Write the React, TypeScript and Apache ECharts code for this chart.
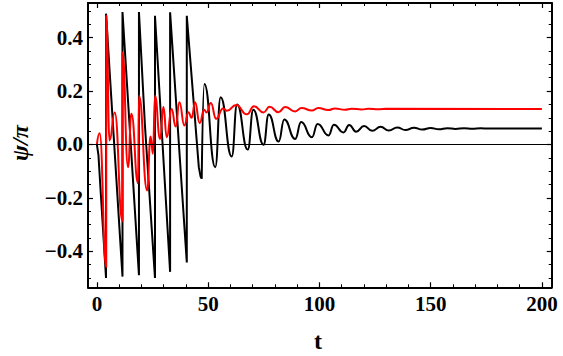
import React, { useEffect, useRef } from "react";
import * as echarts from "echarts";

// ---- axis ranges & ticks ----
const X_MIN = -4;
const X_MAX = 204.4;
const Y_MIN = -0.535;
const Y_MAX = 0.53;
const xMajorTicks = [0, 50, 100, 150, 200];
const xMinorTicks = [10, 20, 30, 40, 60, 70, 80, 90, 110, 120, 130, 140, 160, 170, 180, 190];
const yMajorTicks = [-0.4, -0.2, 0, 0.2, 0.4];
const yMinorTicks = [-0.5, -0.45, -0.35, -0.3, -0.25, -0.15, -0.1, -0.05, 0.05, 0.1, 0.15, 0.25, 0.3, 0.35, 0.45, 0.5];

// ---- black curve: sawtooth phase slips (straight parts, incl. vertical jumps) ----
const blackRamp: [number, number][] = [
  [0, 0], [0.7, -0.04], [1.5, -0.15], [4.1, -0.5],
  [4.1, 0.49], [11.5, -0.495],
  [11.5, 0.496], [18.9, -0.49],
  [18.9, 0.496], [21.6, 0.07], [26.1, -0.5],
  [26.1, 0.482], [32.9, -0.477],
  [32.9, 0.495], [40.4, -0.442],
  [40.4, 0.482], [45.8, -0.085], [46.6, -0.12], [47.1, -0.128],
];

// ---- black curve: damped oscillation (extrema) ----
const blackWave: [number, number][] = [
  [47.1, -0.128], [48.3, 0.227], [53.2, -0.085], [55.6, 0.177], [60.6, -0.045],
  [63.0, 0.15], [67.8, -0.019], [70.3, 0.13], [74.9, -0.001], [77.2, 0.112],
  [81.7, 0.011], [84.2, 0.094], [89.1, 0.021], [91.8, 0.084], [96.6, 0.027],
  [99.2, 0.077], [104.1, 0.034], [106.5, 0.074], [110.8, 0.045], [113.4, 0.073],
  [116.5, 0.048], [120.1, 0.069], [123.7, 0.051], [127.5, 0.066], [131.2, 0.052],
  [135.0, 0.064], [138.7, 0.054], [142.5, 0.063], [146.2, 0.056], [150.0, 0.062],
  [153.7, 0.057], [157.5, 0.061], [161.2, 0.058], [165.0, 0.061], [168.7, 0.059],
  [172.5, 0.0605], [176.2, 0.0598], [200, 0.06],
];

// ---- red curve (extrema and jumps) ----
const redWave: [number, number][] = [
  [0, 0], [1.2, 0.042], [4.2, -0.459], [4.2, 0.482], [5.7, 0.015], [8.0, 0.12],
  [11.5, -0.287], [11.5, 0.345], [14.0, -0.085], [15.5, 0.115], [18.5, -0.145],
  [18.9, 0.183], [22.6, -0.172], [24.1, 0.03], [25.2, -0.035], [26.1, 0.183],
  [28.4, 0.021], [29.9, 0.14], [31.4, 0.027], [33.6, 0.133], [35.4, 0.067],
  [37.1, 0.158], [39.3, 0.071], [41.1, 0.121], [42.6, 0.1], [44.1, 0.158],
  [46.2, 0.08], [48.2, 0.13], [49.3, 0.12], [51.2, 0.155], [53.6, 0.096],
  [56.7, 0.135], [58.4, 0.126], [62.6, 0.148], [67.4, 0.113], [70.6, 0.143],
  [74.9, 0.12], [77.6, 0.141], [81.6, 0.121], [84.6, 0.14], [89.1, 0.124],
  [92.0, 0.137], [96.6, 0.127], [99.5, 0.137], [104.0, 0.129], [107.0, 0.135],
  [111.5, 0.13], [114.5, 0.134], [119.0, 0.131], [122.0, 0.134], [126.5, 0.132],
  [130.0, 0.1335], [200, 0.133],
];

const FONT = '"Liberation Serif", "Times New Roman", serif';

export default function App() {
  const ref = useRef<HTMLDivElement>(null);
  useEffect(() => {
    if (!ref.current) return;
    const chart = echarts.init(ref.current, null, { renderer: "svg" });
    const frameLine = { show: true, onZero: false, lineStyle: { color: "#000", width: 2 } };
    const noLine = { show: false, onZero: false };
    const majorTick = (vals: number[]) => ({
      show: true, inside: true, length: 5, customValues: vals,
      lineStyle: { color: "#000", width: 1.2 },
    });
    const minorTick = (vals: number[]) => ({
      show: true, inside: true, length: 3, customValues: vals,
      lineStyle: { color: "#000", width: 1 },
    });
    const xBase = { type: "value", min: X_MIN, max: X_MAX, splitLine: { show: false } };
    const yBase = { type: "value", min: Y_MIN, max: Y_MAX, splitLine: { show: false } };
    const labelStyle = { color: "#000", fontFamily: FONT, fontWeight: "bold", fontSize: 21 };

    chart.setOption({
      animation: false,
      backgroundColor: "#fff",
      grid: { left: 88, right: 11.3, top: 3, bottom: 68.7, containLabel: false },
      xAxis: [
        {
          ...xBase, position: "bottom", axisLine: frameLine, axisTick: majorTick(xMajorTicks),
          axisLabel: { ...labelStyle, show: true, customValues: xMajorTicks, margin: 6, formatter: (v: number) => String(v) },
        },
        { ...xBase, position: "bottom", axisLine: noLine, axisTick: minorTick(xMinorTicks), axisLabel: { show: false } },
        { ...xBase, position: "top", axisLine: frameLine, axisTick: majorTick(xMajorTicks), axisLabel: { show: false } },
        { ...xBase, position: "top", axisLine: noLine, axisTick: minorTick(xMinorTicks), axisLabel: { show: false } },
      ],
      yAxis: [
        {
          ...yBase, position: "left", axisLine: frameLine, axisTick: majorTick(yMajorTicks),
          axisLabel: {
            ...labelStyle, show: true, customValues: yMajorTicks, margin: 5,
            formatter: (v: number) => (v < -1e-9 ? "\u2212" : "") + Math.abs(v).toFixed(1),
          },
        },
        { ...yBase, position: "left", axisLine: noLine, axisTick: minorTick(yMinorTicks), axisLabel: { show: false } },
        { ...yBase, position: "right", axisLine: frameLine, axisTick: majorTick(yMajorTicks), axisLabel: { show: false } },
        { ...yBase, position: "right", axisLine: noLine, axisTick: minorTick(yMinorTicks), axisLabel: { show: false } },
      ],
      graphic: [
        {
          type: "text", x: 318, y: 341,
          style: { text: "t", font: `bold 24px ${FONT}`, fill: "#000", align: "center", verticalAlign: "middle" },
        },
        {
          type: "text", x: 20, y: 143, rotation: Math.PI / 2,
          style: { text: "ψ/π", font: `italic bold 24px ${FONT}`, fill: "#000", align: "center", verticalAlign: "middle" },
        },
      ],
      series: [
        {
          type: "line", xAxisIndex: 0, yAxisIndex: 0, data: blackRamp, showSymbol: false, smooth: false,
          lineStyle: { color: "#000", width: 2 }, z: 2,
          markLine: {
            silent: true, symbol: ["none", "none"], label: { show: false },
            lineStyle: { color: "#000", width: 1, type: "solid" },
            data: [{ yAxis: 0 }],
          },
        },
        {
          type: "line", xAxisIndex: 0, yAxisIndex: 0, data: blackWave, showSymbol: false,
          smooth: 0.5, smoothMonotone: "x", lineStyle: { color: "#000", width: 2 }, z: 2,
        },
        {
          type: "line", xAxisIndex: 0, yAxisIndex: 0, data: redWave, showSymbol: false,
          smooth: 0.5, smoothMonotone: "x", lineStyle: { color: "#ff0000", width: 2 }, z: 3,
        },
      ],
    });
    return () => chart.dispose();
  }, []);
  return <div ref={ref} style={{ position: "fixed", left: 0, top: 0, width: 563, height: 356 }} />;
}
